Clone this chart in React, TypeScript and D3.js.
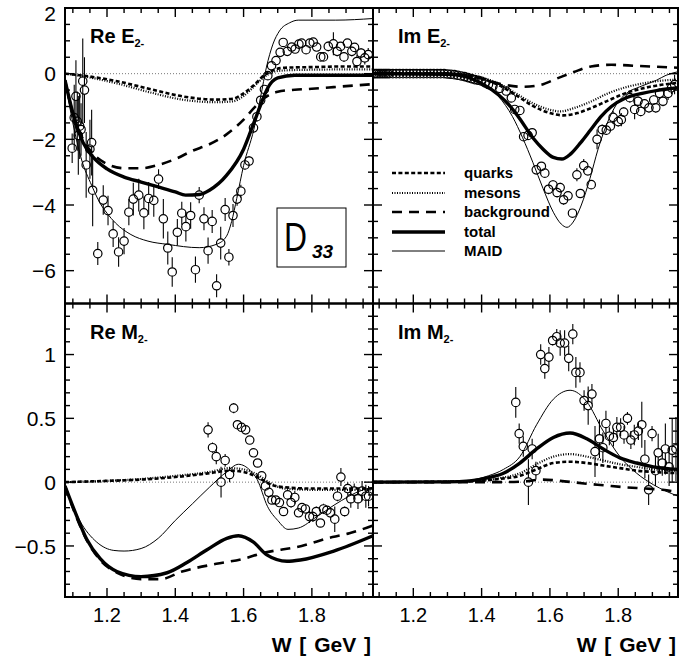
import React from "react";
import * as d3 from "d3";

// ---------------- DATA ----------------
// Points: [W (GeV), value, error]
const reE2Points: number[][] = [
  [1.098, -2.27, 0.45], [1.104, -1.34, 1.0], [1.109, -0.69, 1.1], [1.113, -1.45, 0.9],
  [1.116, -1.88, 1.2], [1.12, -1.6, 1.0], [1.124, -1.7, 0.8], [1.129, -0.23, 1.3],
  [1.134, -0.5, 1.0], [1.139, -2.78, 1.0], [1.15, -2.3, 0.9], [1.155, -2.1, 1.0],
  [1.158, -3.55, 1.1], [1.173, -5.48, 0.35], [1.189, -3.85, 0.45], [1.203, -4.17, 0.45],
  [1.218, -4.88, 0.4], [1.234, -5.43, 0.45], [1.25, -5.1, 0.4], [1.264, -4.22, 0.4],
  [1.277, -3.82, 0.5], [1.293, -3.7, 0.5], [1.308, -4.24, 0.5], [1.322, -3.8, 0.5],
  [1.337, -3.86, 0.5], [1.351, -3.21, 0.3], [1.365, -4.42, 0.6], [1.378, -5.31, 0.5],
  [1.391, -6.04, 0.45], [1.406, -4.83, 0.4], [1.419, -4.25, 0.35], [1.431, -4.66, 0.45],
  [1.445, -4.32, 0.4], [1.459, -5.97, 0.4], [1.47, -3.7, 0.25], [1.484, -4.42, 0.35],
  [1.496, -5.39, 0.4], [1.508, -4.5, 0.35], [1.521, -6.46, 0.35], [1.533, -5.16, 0.5],
  [1.546, -4.14, 0.35], [1.557, -5.59, 0.25], [1.569, -4.32, 0.35], [1.581, -3.82, 0.2],
  [1.592, -3.58, 0.2], [1.604, -2.78, 0.15], [1.616, -2.66, 0.15], [1.629, -1.65, 0.15],
  [1.639, -1.31, 0.15], [1.65, -0.81, 0.1], [1.661, -0.48, 0.1], [1.671, -0.06, 0.1],
  [1.682, 0.24, 0.1], [1.695, 0.4, 0.1], [1.707, 0.65, 0.1], [1.716, 0.95, 0.1],
  [1.728, 0.68, 0.1], [1.741, 0.81, 0.1], [1.751, 0.75, 0.1], [1.762, 0.9, 0.1],
  [1.77, 0.93, 0.1], [1.783, 0.73, 0.1], [1.794, 0.93, 0.1], [1.804, 0.96, 0.1],
  [1.814, 0.81, 0.1], [1.826, 0.51, 0.1], [1.834, 0.51, 0.1], [1.848, 0.83, 0.15],
  [1.863, 0.91, 0.35], [1.874, 0.68, 0.15], [1.884, 0.83, 0.1], [1.894, 0.51, 0.15],
  [1.904, 0.93, 0.1], [1.917, 0.68, 0.15], [1.925, 0.8, 0.1], [1.932, 0.37, 0.2],
  [1.944, 0.63, 0.15], [1.955, 0.48, 0.2], [1.965, 0.58, 0.2],
];
const reE2Quarks = [[1.077, 0], [1.13, -0.06], [1.23, -0.23], [1.33, -0.48], [1.42, -0.69], [1.52, -0.79], [1.57, -0.76], [1.6, -0.6], [1.63, -0.35], [1.66, -0.05], [1.69, 0.12], [1.72, 0.18], [1.8, 0.2], [1.9, 0.22], [1.979, 0.22]];
const reE2Mesons = [[1.077, 0], [1.13, -0.08], [1.23, -0.3], [1.33, -0.58], [1.42, -0.79], [1.52, -0.87], [1.57, -0.84], [1.6, -0.68], [1.63, -0.4], [1.66, -0.1], [1.69, 0.06], [1.72, 0.1], [1.8, 0.12], [1.9, 0.13], [1.979, 0.13]];
const reE2Background = [[1.077, -0.2], [1.1, -1.2], [1.13, -2.0], [1.16, -2.45], [1.2, -2.75], [1.25, -2.88], [1.3, -2.88], [1.35, -2.78], [1.4, -2.6], [1.45, -2.35], [1.5, -2.15], [1.55, -1.85], [1.6, -1.4], [1.63, -1.05], [1.66, -0.75], [1.7, -0.55], [1.75, -0.49], [1.8, -0.46], [1.85, -0.42], [1.9, -0.38], [1.979, -0.32]];
const reE2Total = [[1.077, -0.2], [1.1, -1.2], [1.13, -2.1], [1.16, -2.55], [1.2, -2.9], [1.25, -3.15], [1.3, -3.3], [1.35, -3.45], [1.4, -3.6], [1.43, -3.7], [1.47, -3.68], [1.5, -3.55], [1.55, -3.1], [1.6, -2.3], [1.63, -1.5], [1.65, -0.95], [1.67, -0.45], [1.7, -0.13], [1.75, -0.05], [1.979, -0.05]];
const reE2Maid = [[1.077, -0.2], [1.1, -1.5], [1.125, -2.6], [1.155, -3.4], [1.18, -3.95], [1.2, -4.25], [1.225, -4.55], [1.27, -4.9], [1.32, -5.1], [1.378, -5.2], [1.47, -5.3], [1.52, -5.2], [1.55, -4.95], [1.565, -4.5], [1.58, -3.8], [1.6, -2.8], [1.63, -1.7], [1.65, -0.7], [1.667, 0.2], [1.686, 0.9], [1.705, 1.3], [1.735, 1.55], [1.76, 1.63], [1.87, 1.63], [1.979, 1.68]];

const imE2Points: number[][] = [
  [1.085, 0, 0], [1.09, 0, 0], [1.095, 0, 0], [1.1, 0, 0], [1.105, 0, 0], [1.11, 0, 0],
  [1.115, 0, 0], [1.12, 0, 0], [1.125, 0, 0], [1.13, 0, 0], [1.14, 0, 0], [1.15, 0, 0],
  [1.16, 0, 0], [1.17, 0, 0], [1.18, 0, 0], [1.19, 0, 0], [1.2, 0, 0], [1.21, 0, 0],
  [1.22, 0, 0], [1.23, 0, 0], [1.24, 0, 0], [1.25, 0, 0], [1.26, 0, 0], [1.27, 0, 0],
  [1.28, 0, 0], [1.29, 0, 0], [1.3, -0.01, 0], [1.31, -0.02, 0], [1.32, -0.03, 0],
  [1.33, -0.05, 0], [1.34, -0.07, 0], [1.35, -0.09, 0], [1.36, -0.12, 0], [1.37, -0.15, 0],
  [1.38, -0.18, 0], [1.39, -0.2, 0], [1.4, -0.23, 0], [1.41, -0.28, 0], [1.42, -0.33, 0],
  [1.433, -0.38, 0], [1.453, -0.45, 0],
  [1.472, -0.53, 0.05], [1.487, -0.74, 0.05], [1.497, -1.09, 0.1], [1.512, -1.12, 0.1],
  [1.523, -1.92, 0.1], [1.536, -1.88, 0.1], [1.548, -1.8, 0.1], [1.56, -2.93, 0.1],
  [1.575, -2.82, 0.1], [1.585, -3.03, 0.1], [1.596, -3.52, 0.15], [1.609, -3.39, 0.15],
  [1.621, -3.62, 0.15], [1.63, -3.47, 0.15], [1.64, -3.84, 0.15], [1.653, -3.72, 0.1],
  [1.666, -4.25, 0.1], [1.679, -3.08, 0.2], [1.689, -3.65, 0.1], [1.699, -2.8, 0.2],
  [1.711, -2.96, 0.1], [1.721, -3.38, 0.1], [1.738, -2.0, 0.3], [1.753, -1.7, 0.15],
  [1.765, -1.72, 0.15], [1.777, -1.6, 0.15], [1.785, -1.33, 0.2], [1.8, -1.46, 0.15],
  [1.809, -1.4, 0.2], [1.816, -1.17, 0.15], [1.834, -0.73, 0.15], [1.848, -1.09, 0.3],
  [1.858, -0.84, 0.15], [1.866, -1.15, 0.15], [1.877, -0.92, 0.15], [1.89, -1.04, 0.15],
  [1.904, -0.8, 0.15], [1.91, -1.04, 0.15], [1.921, -0.6, 0.15], [1.931, -0.84, 0.15],
  [1.946, -0.6, 0.2], [1.956, -0.43, 0.2], [1.965, -0.33, 0.3],
];
const imE2Quarks = [[1.082, 0], [1.3, 0], [1.38, -0.1], [1.45, -0.35], [1.5, -0.65], [1.55, -0.98], [1.6, -1.2], [1.64, -1.27], [1.68, -1.2], [1.72, -1.05], [1.77, -0.82], [1.82, -0.6], [1.87, -0.45], [1.92, -0.35], [1.975, -0.28]];
const imE2Mesons = [[1.082, 0], [1.3, 0], [1.38, -0.08], [1.45, -0.3], [1.5, -0.6], [1.55, -0.9], [1.6, -1.1], [1.63, -1.15], [1.67, -1.05], [1.72, -0.85], [1.77, -0.6], [1.82, -0.42], [1.87, -0.3], [1.92, -0.22], [1.975, -0.18]];
const imE2Background = [[1.082, 0], [1.3, 0], [1.38, -0.1], [1.45, -0.3], [1.52, -0.4], [1.57, -0.35], [1.62, -0.15], [1.67, 0.05], [1.72, 0.22], [1.78, 0.27], [1.85, 0.24], [1.975, 0.18]];
const imE2Total = [[1.082, 0], [1.3, -0.02], [1.35, -0.08], [1.4, -0.3], [1.45, -0.65], [1.48, -0.95], [1.51, -1.35], [1.55, -1.95], [1.58, -2.3], [1.61, -2.55], [1.635, -2.6], [1.66, -2.45], [1.69, -2.1], [1.72, -1.7], [1.75, -1.3], [1.78, -1.0], [1.82, -0.75], [1.87, -0.6], [1.92, -0.5], [1.975, -0.43]];
const imE2Maid = [[1.082, 0], [1.3, -0.02], [1.35, -0.1], [1.4, -0.3], [1.45, -0.7], [1.49, -1.3], [1.52, -1.95], [1.55, -2.7], [1.58, -3.5], [1.61, -4.22], [1.633, -4.58], [1.65, -4.68], [1.668, -4.52], [1.692, -4.0], [1.717, -3.2], [1.741, -2.3], [1.766, -1.55], [1.794, -0.95], [1.824, -0.6], [1.863, -0.4], [1.912, -0.2], [1.94, -0.05], [1.975, 0.06]];

const reM2Points: number[][] = [
  [1.496, 0.41, 0.06], [1.509, 0.27, 0.04], [1.52, 0.2, 0.06], [1.534, 0.0, 0.12],
  [1.546, 0.17, 0.05], [1.559, 0.06, 0.06], [1.571, 0.58, 0.04], [1.582, 0.45, 0.02],
  [1.594, 0.43, 0.02], [1.606, 0.41, 0.02], [1.618, 0.33, 0.02], [1.629, 0.23, 0.02],
  [1.641, 0.15, 0.02], [1.653, 0.05, 0.02], [1.664, -0.03, 0.02], [1.674, -0.08, 0.02],
  [1.683, -0.14, 0.02], [1.694, -0.14, 0.02], [1.705, -0.16, 0.03], [1.717, -0.23, 0.03],
  [1.729, -0.1, 0.04], [1.739, -0.16, 0.04], [1.75, -0.12, 0.05], [1.761, -0.24, 0.03],
  [1.771, -0.2, 0.03], [1.781, -0.21, 0.03], [1.793, -0.27, 0.05], [1.803, -0.27, 0.04],
  [1.813, -0.23, 0.04], [1.825, -0.32, 0.03], [1.834, -0.21, 0.04], [1.844, -0.22, 0.03],
  [1.854, -0.24, 0.04], [1.867, -0.29, 0.1], [1.875, -0.11, 0.04], [1.885, 0.04, 0.07],
  [1.896, -0.23, 0.04], [1.905, -0.05, 0.05], [1.914, -0.13, 0.07], [1.924, -0.07, 0.06],
  [1.935, -0.13, 0.08], [1.947, -0.07, 0.08], [1.958, -0.11, 0.09], [1.966, -0.11, 0.08],
];
const reM2Quarks = [[1.077, 0], [1.2, 0.01], [1.3, 0.02], [1.4, 0.04], [1.5, 0.07], [1.56, 0.09], [1.6, 0.08], [1.64, 0.04], [1.68, -0.02], [1.72, -0.04], [1.8, -0.05], [1.9, -0.05], [1.979, -0.05]];
const reM2Mesons = [[1.077, 0], [1.2, 0.01], [1.3, 0.025], [1.4, 0.05], [1.5, 0.08], [1.56, 0.11], [1.6, 0.1], [1.64, 0.06], [1.68, -0.01], [1.72, -0.05], [1.8, -0.06], [1.9, -0.06], [1.979, -0.06]];
const reM2Background = [[1.077, -0.03], [1.11, -0.27], [1.14, -0.45], [1.18, -0.61], [1.23, -0.71], [1.3, -0.76], [1.356, -0.76], [1.42, -0.7], [1.52, -0.64], [1.6, -0.6], [1.65, -0.56], [1.77, -0.5], [1.86, -0.43], [1.91, -0.4], [1.979, -0.34]];
const reM2Total = [[1.077, -0.03], [1.112, -0.27], [1.141, -0.45], [1.18, -0.6], [1.229, -0.7], [1.3, -0.74], [1.376, -0.71], [1.434, -0.63], [1.493, -0.53], [1.551, -0.44], [1.585, -0.42], [1.629, -0.47], [1.668, -0.57], [1.727, -0.62], [1.766, -0.61], [1.864, -0.54], [1.979, -0.42]];
const reM2Maid = [[1.077, -0.03], [1.12, -0.3], [1.17, -0.47], [1.22, -0.535], [1.25, -0.54], [1.3, -0.52], [1.35, -0.44], [1.4, -0.3], [1.45, -0.17], [1.5, -0.04], [1.55, 0.08], [1.585, 0.14], [1.62, 0.09], [1.64, 0.02], [1.67, -0.19], [1.7, -0.3], [1.73, -0.37], [1.76, -0.36], [1.815, -0.27], [1.865, -0.18], [1.95, -0.06], [1.979, -0.04]];

const imM2Points: number[][] = [
  [1.5, 0.625, 0.12], [1.51, 0.38, 0.08], [1.522, 0.28, 0.08], [1.537, 0.0, 0.18],
  [1.548, 0.26, 0.08], [1.559, 0.09, 0.07], [1.573, 1.0, 0.08], [1.585, 0.89, 0.08],
  [1.597, 0.98, 0.08], [1.608, 1.11, 0.04], [1.62, 1.14, 0.06], [1.63, 1.09, 0.1],
  [1.643, 1.09, 0.1], [1.655, 0.97, 0.1], [1.667, 1.16, 0.08], [1.676, 0.86, 0.12],
  [1.688, 0.86, 0.08], [1.7, 0.64, 0.08], [1.712, 0.6, 0.15], [1.723, 0.69, 0.08],
  [1.732, 0.24, 0.2], [1.745, 0.34, 0.15], [1.755, 0.27, 0.12], [1.764, 0.46, 0.1],
  [1.774, 0.36, 0.07], [1.786, 0.35, 0.07], [1.796, 0.43, 0.08], [1.807, 0.43, 0.07],
  [1.817, 0.37, 0.07], [1.827, 0.5, 0.05], [1.837, 0.33, 0.07], [1.847, 0.37, 0.08],
  [1.859, 0.4, 0.07], [1.869, 0.45, 0.18], [1.878, 0.18, 0.15], [1.889, -0.06, 0.12],
  [1.899, 0.38, 0.06], [1.909, 0.09, 0.12], [1.917, 0.23, 0.15], [1.929, 0.15, 0.1],
  [1.938, 0.26, 0.2], [1.949, 0.12, 0.15], [1.958, 0.25, 0.25], [1.969, 0.26, 0.25],
];
const imM2Quarks = [[1.082, 0], [1.35, 0.005], [1.45, 0.025], [1.512, 0.05], [1.56, 0.1], [1.61, 0.15], [1.659, 0.16], [1.708, 0.15], [1.756, 0.13], [1.805, 0.11], [1.854, 0.09], [1.903, 0.08], [1.975, 0.07]];
const imM2Mesons = [[1.082, 0], [1.35, 0.005], [1.45, 0.03], [1.512, 0.07], [1.56, 0.14], [1.61, 0.2], [1.659, 0.22], [1.708, 0.2], [1.756, 0.17], [1.805, 0.14], [1.854, 0.12], [1.903, 0.1], [1.975, 0.09]];
const imM2Background = [[1.082, 0], [1.45, 0], [1.52, 0.005], [1.58, 0.02], [1.63, 0.01], [1.7, -0.01], [1.76, -0.025], [1.82, -0.04], [1.88, -0.05], [1.93, -0.06], [1.975, -0.08]];
const imM2Total = [[1.082, 0], [1.3, 0.002], [1.366, 0.01], [1.42, 0.035], [1.464, 0.07], [1.512, 0.15], [1.561, 0.26], [1.61, 0.35], [1.659, 0.385], [1.708, 0.34], [1.756, 0.26], [1.805, 0.19], [1.854, 0.15], [1.903, 0.12], [1.975, 0.1]];
const imM2Maid = [[1.082, 0], [1.3, 0.005], [1.366, 0.015], [1.42, 0.05], [1.464, 0.1], [1.512, 0.2], [1.561, 0.45], [1.61, 0.65], [1.659, 0.72], [1.708, 0.63], [1.756, 0.4], [1.805, 0.2], [1.854, 0.07], [1.903, -0.02], [1.975, -0.11]];

const xMajorTicks = [1.2, 1.4, 1.6, 1.8];
const yMajorTop = [-6, -4, -2, 0, 2];
const yMajorBottom = [-0.5, 0, 0.5, 1];
const legendLabels = ["quarks", "mesons", "background", "total", "MAID"];

// ---------------- STYLES ----------------
const styles: Record<string, any> = {
  quarks: { strokeWidth: 2.6, dash: "4 2.4" },
  mesons: { strokeWidth: 2.2, dash: "1 1.5" },
  background: { strokeWidth: 2.6, dash: "10 7" },
  total: { strokeWidth: 3.4, dash: null },
  MAID: { strokeWidth: 1, dash: null },
};

const FONT = "'Liberation Sans', Arial, Helvetica, sans-serif";

type Panel = {
  id: string;
  x0: number; x1: number; y0: number; y1: number;
  xd: [number, number]; yd: [number, number];
  yMajor: number[]; yMinorStep: number;
  points: number[][];
  curves: [string, number[][]][];
  label: [string, string, string];
  showYLabels: boolean; showXLabels: boolean;
};

const panels: Panel[] = [
  {
    id: "reE", x0: 65, x1: 373, y0: 8, y1: 303.5, xd: [1.077, 1.979], yd: [-7, 2],
    yMajor: yMajorTop, yMinorStep: 0.5, points: reE2Points,
    curves: [["quarks", reE2Quarks], ["mesons", reE2Mesons], ["background", reE2Background], ["total", reE2Total], ["MAID", reE2Maid]],
    label: ["Re ", "E", "2-"], showYLabels: true, showXLabels: false,
  },
  {
    id: "imE", x0: 373, x1: 678, y0: 8, y1: 303.5, xd: [1.082, 1.975], yd: [-7, 2],
    yMajor: yMajorTop, yMinorStep: 0.5, points: imE2Points,
    curves: [["quarks", imE2Quarks], ["mesons", imE2Mesons], ["background", imE2Background], ["total", imE2Total], ["MAID", imE2Maid]],
    label: ["Im ", "E", "2-"], showYLabels: false, showXLabels: false,
  },
  {
    id: "reM", x0: 65, x1: 373, y0: 303.5, y1: 597, xd: [1.077, 1.979], yd: [-0.9, 1.4],
    yMajor: yMajorBottom, yMinorStep: 0.1, points: reM2Points,
    curves: [["quarks", reM2Quarks], ["mesons", reM2Mesons], ["background", reM2Background], ["total", reM2Total], ["MAID", reM2Maid]],
    label: ["Re ", "M", "2-"], showYLabels: true, showXLabels: true,
  },
  {
    id: "imM", x0: 373, x1: 678, y0: 303.5, y1: 597, xd: [1.082, 1.975], yd: [-0.9, 1.4],
    yMajor: yMajorBottom, yMinorStep: 0.1, points: imM2Points,
    curves: [["quarks", imM2Quarks], ["mesons", imM2Mesons], ["background", imM2Background], ["total", imM2Total], ["MAID", imM2Maid]],
    label: ["Im ", "M", "2-"], showYLabels: false, showXLabels: true,
  },
];

const fmt = (v: number) => {
  const s = Math.abs(v) < 1e-9 ? "0" : String(v);
  return s.replace("-", "\u2212");
};

function PanelView({ p }: { p: Panel }) {
  const x = d3.scaleLinear().domain(p.xd).range([p.x0, p.x1]);
  const y = d3.scaleLinear().domain(p.yd).range([p.y1, p.y0]);
  const line = d3.line<number[]>().x((d) => x(d[0])).y((d) => y(d[1])).curve(d3.curveMonotoneX);

  const xMinor = d3.range(1.1, 1.96, 0.05).map((v) => Math.round(v * 100) / 100)
    .filter((v) => v > p.xd[0] && v < p.xd[1]);
  const yMinor = d3.range(p.yd[0], p.yd[1] + 1e-6, p.yMinorStep).map((v) => Math.round(v * 100) / 100);
  const isMajorX = (v: number) => xMajorTicks.some((m) => Math.abs(m - v) < 1e-6);
  const isMajorY = (v: number) => p.yMajor.some((m) => Math.abs(m - v) < 1e-6);
  const MJ = 9, MN = 5;
  const r = 4.2;

  return (
    <g>
      <defs>
        <clipPath id={`clip-${p.id}`}>
          <rect x={p.x0} y={p.y0} width={p.x1 - p.x0} height={p.y1 - p.y0} />
        </clipPath>
      </defs>
      <g clipPath={`url(#clip-${p.id})`}>
        <line x1={p.x0} x2={p.x1} y1={y(0)} y2={y(0)} stroke="#555" strokeWidth={0.8} strokeDasharray="1 2" />
        {p.curves.map(([name, data]) => (
          <path key={name} d={line(data) || ""} fill="none" stroke="#000"
            strokeWidth={styles[name].strokeWidth}
            strokeDasharray={styles[name].dash || undefined} />
        ))}
        {p.points.map((d, i) => {
          const cx = x(d[0]);
          const cy = y(d[1]);
          const e = d[2] || 0;
          const top = y(d[1] + e);
          const bot = y(d[1] - e);
          return (
            <g key={i}>
              {top < cy - r && <line x1={cx} x2={cx} y1={top} y2={cy - r} stroke="#000" strokeWidth={1.1} />}
              {bot > cy + r && <line x1={cx} x2={cx} y1={cy + r} y2={bot} stroke="#000" strokeWidth={1.1} />}
              <circle cx={cx} cy={cy} r={r} fill="none" stroke="#000" strokeWidth={1.2} />
            </g>
          );
        })}
      </g>
      {/* ticks */}
      {xMinor.map((v) => {
        const L = isMajorX(v) ? MJ : MN;
        return (
          <g key={"xt" + v}>
            <line x1={x(v)} x2={x(v)} y1={p.y1} y2={p.y1 - L} stroke="#000" strokeWidth={1.4} />
            <line x1={x(v)} x2={x(v)} y1={p.y0} y2={p.y0 + L} stroke="#000" strokeWidth={1.4} />
          </g>
        );
      })}
      {yMinor.filter((v) => v > p.yd[0] + 1e-6 && v < p.yd[1] - 1e-6).map((v) => {
        const L = isMajorY(v) ? MJ : MN;
        return (
          <g key={"yt" + v}>
            <line x1={p.x0} x2={p.x0 + L} y1={y(v)} y2={y(v)} stroke="#000" strokeWidth={1.4} />
            <line x1={p.x1} x2={p.x1 - L} y1={y(v)} y2={y(v)} stroke="#000" strokeWidth={1.4} />
          </g>
        );
      })}
      <rect x={p.x0} y={p.y0} width={p.x1 - p.x0} height={p.y1 - p.y0} fill="none" stroke="#000" strokeWidth={2} />
      {p.showYLabels && p.yMajor.map((v) => (
        <text key={"yl" + v} x={p.x0 - 9} y={Math.max(y(v), 13)} dy="0.36em" textAnchor="end"
          fontFamily={FONT} fontSize={21}>{fmt(v)}</text>
      ))}
      {p.showXLabels && xMajorTicks.map((v) => (
        <text key={"xl" + v} x={x(v)} y={p.y1 + 25} textAnchor="middle"
          fontFamily={FONT} fontSize={20}>{v.toFixed(1)}</text>
      ))}
      {p.showXLabels && (
        <text x={p.x1 - 2} y={p.y1 + 55} textAnchor="end" fontFamily={FONT} fontWeight="bold"
          fontSize={21} wordSpacing={2}>W [ GeV ]</text>
      )}
      <text x={p.x0 + 25} y={p.y0 + 35} fontFamily={FONT} fontWeight="bold" fontSize={20}>
        {p.label[0]}{p.label[1]}
        <tspan fontSize={11} dy={4}>{p.label[2]}</tspan>
      </text>
    </g>
  );
}

function Legend() {
  const rows = [173, 193, 212, 232, 251];
  return (
    <g>
      {legendLabels.map((name, i) => (
        <g key={name}>
          <line x1={392} x2={445} y1={rows[i]} y2={rows[i]} stroke="#000"
            strokeWidth={styles[name].strokeWidth}
            strokeDasharray={styles[name].dash || undefined} />
          <text x={464} y={rows[i] + 5} fontFamily={FONT} fontWeight="bold" fontSize={15}>{name}</text>
        </g>
      ))}
    </g>
  );
}

export default function App() {
  return (
    <svg width={682} height={665} style={{ position: "absolute", left: 0, top: 0, background: "#fff" }}>
      <rect x={0} y={0} width={682} height={665} fill="#fff" />
      {panels.map((p) => <PanelView key={p.id} p={p} />)}
      <Legend />
      <g>
        <rect x={277} y={208} width={69} height={59} fill="#fff" stroke="#000" strokeWidth={1} />
        <text x={284} y={251} fontFamily={FONT} fontSize={40} textLength={23} lengthAdjust="spacingAndGlyphs">D</text>
        <text x={312} y={258} fontFamily={FONT} fontSize={19} fontWeight="bold" fontStyle="italic">33</text>
      </g>
    </svg>
  );
}
